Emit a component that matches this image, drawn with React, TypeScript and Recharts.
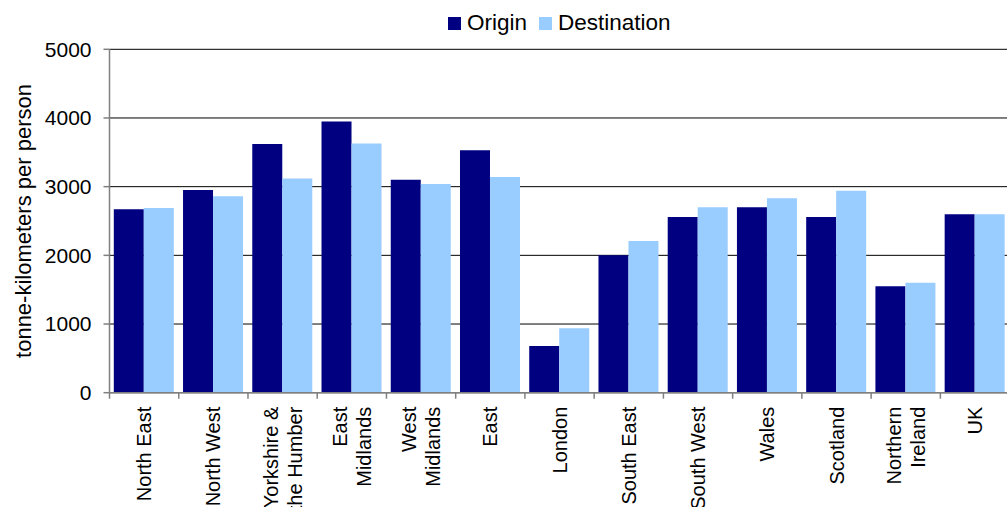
import { BarChart, Bar, XAxis, YAxis, CartesianGrid, Legend } from "recharts";

const regions = [
  "North East",
  "North West",
  "Yorkshire &\nthe Humber",
  "East\nMidlands",
  "West\nMidlands",
  "East",
  "London",
  "South East",
  "South West",
  "Wales",
  "Scotland",
  "Northern\nIreland",
  "UK",
];

const origin = [2670, 2950, 3620, 3950, 3100, 3530, 680, 2000, 2560, 2700, 2560, 1550, 2600];
const destination = [2690, 2860, 3120, 3630, 3040, 3140, 940, 2210, 2700, 2830, 2940, 1600, 2600];

const yTicks = [0, 1000, 2000, 3000, 4000, 5000];

const seriesNames = ["Origin", "Destination"];

const data = regions.map((region, i) => ({
  region,
  origin: origin[i],
  destination: destination[i],
}));

const FONT = "'Liberation Sans', Arial, sans-serif";
const AXIS = "#808080";

// category labels sit under the axis, rotated, with boundary tick marks between regions
function RegionTick(props: any) {
  const { x, y, payload } = props;
  const lines = String(payload.value).split("\n");
  const half = payload.offset || 0;
  const lineGap = 24;
  return (
    <g>
      <line x1={x - half} x2={x - half} y1={y} y2={y + 6} stroke={AXIS} strokeWidth={1.5} />
      <g transform={`translate(${x},${y + 14})`}>
        {lines.map((line, i) => (
          <text
            key={i}
            transform="rotate(-90)"
            x={0}
            y={(i - (lines.length - 1) / 2) * lineGap}
            dy="0.35em"
            textAnchor="end"
            fontSize={20}
            fontFamily={FONT}
            fill="#000"
          >
            {line}
          </text>
        ))}
      </g>
    </g>
  );
}

// keep the legend in series order (Recharts sorts it by name otherwise)
function LegendBox(props: any) {
  const { payload = [] } = props;
  const items = seriesNames
    .map((name) => payload.find((p: any) => p.value === name))
    .filter(Boolean);
  return (
    <div style={{ display: "flex", alignItems: "center", fontFamily: FONT, fontSize: 22.5, lineHeight: "22px", color: "#000" }}>
      {items.map((entry: any, i: number) => (
        <div key={i} style={{ display: "flex", alignItems: "center", marginRight: i === 0 ? 12 : 0 }}>
          <span style={{ width: 13, height: 13, background: entry.color, marginRight: 6, display: "inline-block" }} />
          <span>{entry.value}</span>
        </div>
      ))}
    </div>
  );
}

export default function App() {
  return (
    <div style={{ position: "fixed", left: 0, top: 0, width: 1007, height: 507, overflow: "hidden", background: "#fff" }}>
      <BarChart
        width={1030}
        height={520}
        data={data}
        margin={{ top: 49.3, right: 20.4, bottom: 0, left: 0 }}
        barCategoryGap={4.3}
        barGap={0}
      >
        <CartesianGrid vertical={false} stroke="#000" />
        <XAxis
          dataKey="region"
          height={127.3}
          interval={0}
          axisLine={{ stroke: AXIS, strokeWidth: 1.5 }}
          tickLine={false}
          tickSize={0}
          tickMargin={0}
          tick={<RegionTick />}
        />
        <YAxis
          width={109.5}
          domain={[0, 5000]}
          ticks={yTicks}
          interval={0}
          axisLine={{ stroke: AXIS, strokeWidth: 1.5 }}
          tickLine={{ stroke: AXIS, strokeWidth: 1.5 }}
          tickSize={6}
          tickMargin={12}
          tick={{ fontSize: 21, fontFamily: FONT, fill: "#000" }}
          label={{
            value: "tonne-kilometers per person",
            angle: -90,
            position: "center",
            dx: -32,
            fontSize: 22,
            fontFamily: FONT,
            fill: "#000",
          }}
        />
        <Legend
          layout="horizontal"
          verticalAlign="middle"
          align="center"
          wrapperStyle={{ top: 12, left: 448, width: "auto", height: "auto" }}
          content={<LegendBox />}
        />
        <Bar dataKey="origin" name="Origin" fill="#000080" isAnimationActive={false} />
        <Bar dataKey="destination" name="Destination" fill="#99CCFF" isAnimationActive={false} />
      </BarChart>
    </div>
  );
}
